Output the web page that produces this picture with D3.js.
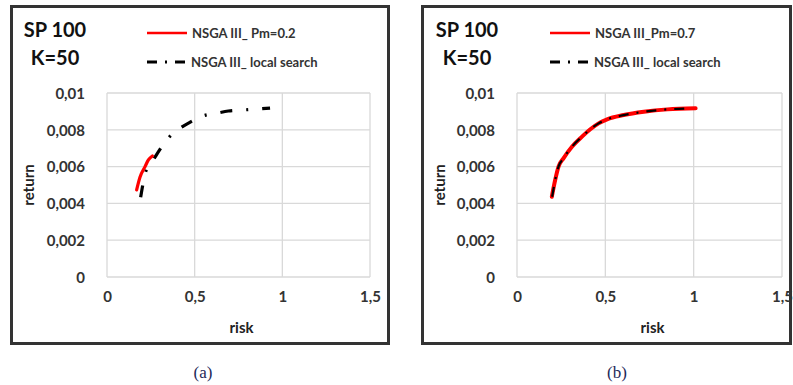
<!DOCTYPE html>
<html>
<head>
<meta charset="utf-8">
<script src="https://cdn.jsdelivr.net/npm/d3@7"></script>
<style>
body { margin: 0; background: #fff; }
svg { display: block; }
text { font-family: Lato, "Open Sans", sans-serif; }
</style>
</head>
<body>
<div id="canvas"></div>
<script>
// ----------------------------------------------------------
// DATA -----------------------------------------------------
// ----------------------------------------------------------
var x_ticks = [0, 0.5, 1, 1.5];
var y_ticks = [0, 0.002, 0.004, 0.006, 0.008, 0.01];

// panel (a)
var a_pm_risk   = [0.169, 0.188, 0.217, 0.236, 0.259];
var a_pm_return = [0.00473, 0.00542, 0.00600, 0.00636, 0.00658];
var a_ls_risk   = [0.192, 0.204, 0.222, 0.264, 0.302, 0.354, 0.416, 0.473, 0.546, 0.626, 0.692, 0.778, 0.854, 0.930];
var a_ls_return = [0.00433, 0.00500, 0.00576, 0.00636, 0.00694, 0.00759, 0.00808, 0.00841, 0.00875, 0.00890, 0.00902, 0.00908, 0.00913, 0.00918];

// panel (b)
var b_pm_risk   = [0.197, 0.216, 0.235, 0.263, 0.311, 0.368, 0.415, 0.462, 0.510, 0.604, 0.718, 0.851, 1.011];
var b_pm_return = [0.00436, 0.00527, 0.00600, 0.00645, 0.00708, 0.00763, 0.00803, 0.00835, 0.00857, 0.00880, 0.00898, 0.00911, 0.00917];
var b_ls_risk   = [0.199, 0.216, 0.235, 0.263, 0.311, 0.368, 0.415, 0.462, 0.510, 0.604, 0.718, 0.851, 0.985];
var b_ls_return = [0.00436, 0.00527, 0.00600, 0.00645, 0.00708, 0.00763, 0.00803, 0.00835, 0.00857, 0.00880, 0.00898, 0.00911, 0.00916];

var text_title_1 = "SP 100";
var text_title_2 = "K=50";
var text_legend_a = "NSGA III_ Pm=0.2";
var text_legend_b = "NSGA III_Pm=0.7";
var text_legend_ls = "NSGA III_ local search";

// ----------------------------------------------------------
// STRUCTURE ------------------------------------------------
// ----------------------------------------------------------
var svg = d3.select("#canvas").append("svg")
.attr("width", 793)
.attr("height", 385);

var locale = d3.formatLocale({ decimal: ",", thousands: ".", grouping: [3], currency: ["", ""] });
var fmt = locale.format("~g");

function zip(xs, ys) {
return xs.map(function(x, i) { return { risk: x, ret: ys[i] }; });
}

// ----------------------------------------------------------
// PANEL ----------------------------------------------------
// ----------------------------------------------------------
function drawPanel(p) {
var g = svg.append("g").attr("transform", "translate(" + p.left + ",0)");

// frame
g.append("rect")
.attr("x", 1.5).attr("y", 6.5)
.attr("width", p.frame_w).attr("height", 337)
.style("fill", "none").style("stroke", "#333").style("stroke-width", 3);

var xScale = d3.scaleLinear().domain([0, 1.5]).range([p.px0, p.px1]);
var yScale = d3.scaleLinear().domain([0, 0.01]).range([277, 93]);

// grid
g.append("g")
.selectAll("line.v").data(x_ticks).enter().append("line")
.attr("x1", function(d) { return xScale(d); }).attr("x2", function(d) { return xScale(d); })
.attr("y1", yScale(0)).attr("y2", yScale(0.01))
.style("stroke", "#d9d9d9").style("stroke-width", 1.3);
g.append("g")
.selectAll("line.h").data(y_ticks).enter().append("line")
.attr("x1", xScale(0)).attr("x2", xScale(1.5))
.attr("y1", function(d) { return yScale(d); }).attr("y2", function(d) { return yScale(d); })
.style("stroke", "#d9d9d9").style("stroke-width", 1.3);

// axes (labels only)
g.append("g")
.attr("transform", "translate(0," + (yScale(0) + 22) + ")")
.call(d3.axisBottom(xScale).tickValues(x_ticks).tickFormat(fmt).tickSize(0))
.call(function(a) {
a.select(".domain").remove();
a.selectAll("text").attr("dy", 0).style("font-size", "15px").style("font-weight", "bold")
.style("font-family", "Lato, sans-serif").attr("fill", "#333");
});
g.append("g")
.attr("transform", "translate(" + (xScale(0) - 19) + ",0)")
.call(d3.axisLeft(yScale).tickValues(y_ticks).tickFormat(fmt).tickSize(0))
.call(function(a) {
a.select(".domain").remove();
a.selectAll("text").attr("dy", "0.35em").style("font-size", "15px").style("font-weight", "bold")
.style("font-family", "Lato, sans-serif").attr("fill", "#333");
});

// axis titles
g.append("text")
.attr("x", (xScale(0) + xScale(1.5)) / 2 + 3).attr("y", 333)
.attr("text-anchor", "middle")
.style("font-size", "15px").style("font-weight", "bold").style("fill", "#222")
.text("risk");
g.append("text")
.attr("transform", "translate(" + p.ret_x + ",185)rotate(-90)")
.attr("text-anchor", "middle")
.style("font-size", "15px").style("font-weight", "bold").style("fill", "#222")
.text("return");

// curves
var line = d3.line()
.curve(d3.curveMonotoneX)
.x(function(d) { return xScale(d.risk); })
.y(function(d) { return yScale(d.ret); });

p.series.forEach(function(s) {
g.append("path")
.datum(s.data)
.attr("d", line)
.style("fill", "none")
.style("stroke", s.color)
.style("stroke-width", s.width)
.style("stroke-dasharray", s.dash)
.style("stroke-linecap", s.dash ? "butt" : "round");
});

// title
g.append("text").attr("x", p.title_x).attr("y", 37)
.attr("text-anchor", "middle")
.style("font-size", "20px").style("font-weight", "bold").style("fill", "#111")
.text(text_title_1);
g.append("text").attr("x", p.title_x).attr("y", 65)
.attr("text-anchor", "middle")
.style("font-size", "20px").style("font-weight", "bold").style("fill", "#111")
.text(text_title_2);

// legend
g.append("line")
.attr("x1", p.leg_x).attr("x2", p.leg_x + 40).attr("y1", 33).attr("y2", 33)
.style("stroke", "#ff0000").style("stroke-width", 2.5);
g.append("text").attr("x", p.leg_x + 45).attr("y", 37.5)
.style("font-size", "13px").style("font-weight", "bold").style("fill", "#333")
.text(p.legend);
g.append("line")
.attr("x1", p.leg_x).attr("x2", p.leg_x + 38).attr("y1", 62).attr("y2", 62)
.style("stroke", "#000").style("stroke-width", 3)
.style("stroke-dasharray", "10,8,2,8");
g.append("text").attr("x", p.leg_x + 44).attr("y", 66.5)
.style("font-size", "13px").style("font-weight", "bold").style("fill", "#333")
.text(text_legend_ls);

// caption
svg.append("text")
.attr("x", p.cap_x).attr("y", 378)
.attr("text-anchor", "middle")
.style("font-family", "'Liberation Serif', serif").style("font-size", "17px").style("fill", "#1f2a5a")
.text(p.caption);
}

// ----------------------------------------------------------
// GFX ------------------------------------------------------
// ----------------------------------------------------------
drawPanel({
left: 10, frame_w: 377, px0: 97, px1: 360, ret_x: 24, title_x: 45, leg_x: 137,
legend: text_legend_a, cap_x: 203, caption: "(a)",
series: [
{ data: zip(a_ls_risk, a_ls_return), color: "#000", width: 3.2, dash: "12,14,2,14" },
{ data: zip(a_pm_risk, a_pm_return), color: "#ff0000", width: 3.2, dash: null }
]
});
drawPanel({
left: 421, frame_w: 368, px0: 96, px1: 361, ret_x: 24, title_x: 46, leg_x: 129,
legend: text_legend_b, cap_x: 617, caption: "(b)",
series: [
{ data: zip(b_pm_risk, b_pm_return), color: "#ff0000", width: 4, dash: null },
{ data: zip(b_ls_risk, b_ls_return), color: "#000", width: 2.2, dash: "10,8,2,8" }
]
});
</script>
</body>
</html>
